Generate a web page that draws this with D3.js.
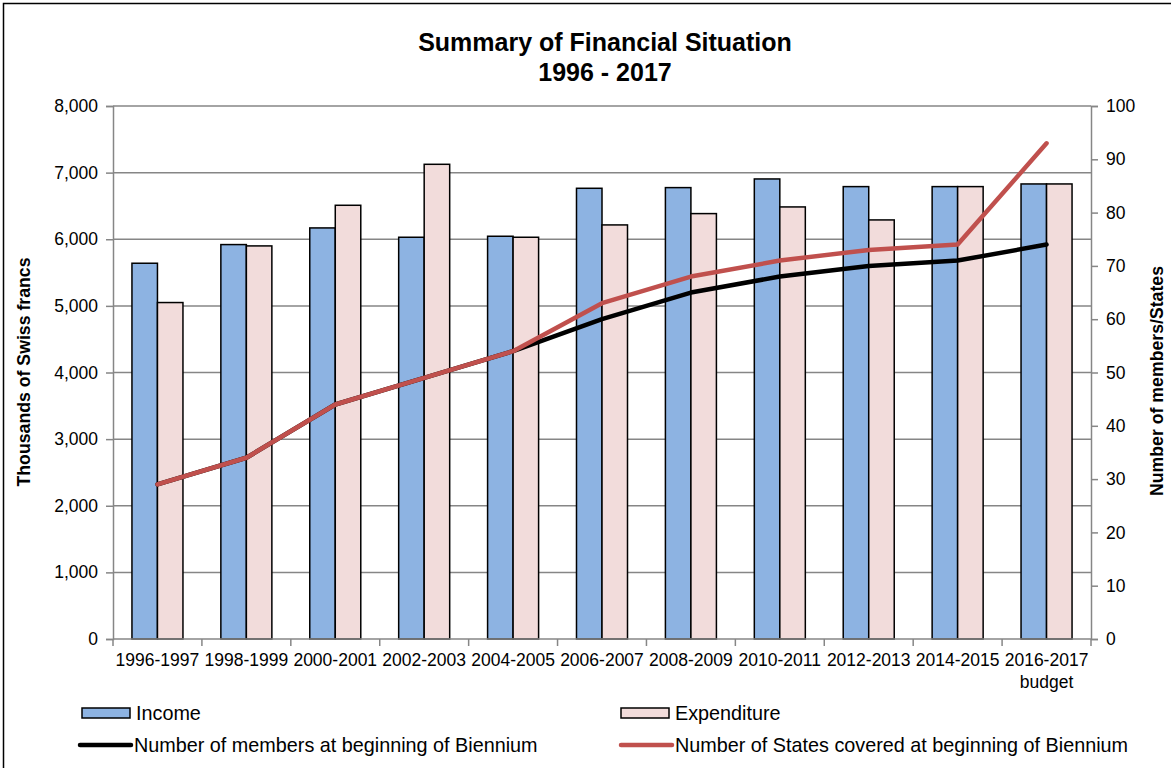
<!DOCTYPE html>
<html>
<head>
<meta charset="utf-8">
<script src="https://cdn.jsdelivr.net/npm/d3@7"></script>
<style>
  html, body { margin: 0; padding: 0; background: #fff; }
  svg { display: block; font-family: "Liberation Sans", Arial, sans-serif; }
</style>
</head>
<body>
<svg id="chart" width="1171" height="768"></svg>
<script>
const categories = ["1996-1997","1998-1999","2000-2001","2002-2003","2004-2005","2006-2007","2008-2009","2010-2011","2012-2013","2014-2015","2016-2017"];
const subLabels = ["","","","","","","","","","","budget"];
const income = [5640, 5920, 6170, 6030, 6045, 6765, 6775, 6905, 6790, 6790, 6830];
const expenditure = [5050, 5900, 6510, 7125, 6030, 6215, 6385, 6485, 6290, 6790, 6830];
const members = [29, 34, 44, 49, 54, 60, 65, 68, 70, 71, 74];
const states = [29, 34, 44, 49, 54, 63, 68, 71, 73, 74, 93];
const leftTicks = [0, 1000, 2000, 3000, 4000, 5000, 6000, 7000, 8000];
const rightTicks = [0, 10, 20, 30, 40, 50, 60, 70, 80, 90, 100];

const svg = d3.select("#chart");
const m = {left: 113, right: 1091, top: 106, bottom: 639};
const gridColor = "#868686";

// outer border
svg.append("path").attr("d", "M3.5,768 L3.5,3.5 L1171,3.5").attr("fill","none").attr("stroke","#000").attr("stroke-width",1.5);

const x = d3.scaleBand().domain(categories).range([m.left, m.right]).paddingInner(0).paddingOuter(0);
const xs = d3.scaleBand().domain(["income","expenditure"]).range([0, x.bandwidth()]).paddingInner(0).paddingOuter(0.743);
const yL = d3.scaleLinear().domain([0, 8000]).range([m.bottom, m.top]);
const yR = d3.scaleLinear().domain([0, 100]).range([m.bottom, m.top]);

// gridlines
svg.append("g").selectAll("line").data(leftTicks.filter(d => d > 0)).join("line")
  .attr("x1", m.left).attr("x2", m.right)
  .attr("y1", d => yL(d)).attr("y2", d => yL(d))
  .attr("stroke", gridColor).attr("stroke-width", 1.5);

// left axis
const gL = svg.append("g").attr("transform", `translate(${m.left},0)`)
  .call(d3.axisLeft(yL).tickValues(leftTicks).tickFormat(d3.format(",")).tickSize(7).tickPadding(8));
gL.select(".domain").attr("stroke", gridColor).attr("stroke-width", 1.5);
gL.selectAll(".tick line").attr("stroke", gridColor).attr("stroke-width", 1.5);
gL.selectAll("text").attr("font-size", 17.5).attr("fill", "#000").attr("font-family", "Liberation Sans, Arial, sans-serif");

// right axis
const gR = svg.append("g").attr("transform", `translate(${m.right},0)`)
  .call(d3.axisRight(yR).tickValues(rightTicks).tickSize(7).tickPadding(8));
gR.select(".domain").attr("stroke", gridColor).attr("stroke-width", 1.5);
gR.selectAll(".tick line").attr("stroke", gridColor).attr("stroke-width", 1.5);
gR.selectAll("text").attr("font-size", 17.5).attr("fill", "#000").attr("font-family", "Liberation Sans, Arial, sans-serif");

// bars
const groups = svg.append("g").selectAll("g").data(categories).join("g")
  .attr("transform", d => `translate(${x(d)},0)`);
groups.append("rect")
  .attr("x", xs("income")).attr("width", xs.bandwidth())
  .attr("y", (d,i) => yL(income[i])).attr("height", (d,i) => yL(0) - yL(income[i]))
  .attr("fill", "#8DB3E2").attr("stroke", "#000").attr("stroke-width", 1.5);
groups.append("rect")
  .attr("x", xs("expenditure")).attr("width", xs.bandwidth())
  .attr("y", (d,i) => yL(expenditure[i])).attr("height", (d,i) => yL(0) - yL(expenditure[i]))
  .attr("fill", "#F2DCDB").attr("stroke", "#000").attr("stroke-width", 1.5);

// bottom axis
const gB = svg.append("g").attr("transform", `translate(0,${m.bottom})`);
gB.append("line").attr("x1", m.left).attr("x2", m.right).attr("y1", 0).attr("y2", 0)
  .attr("stroke", gridColor).attr("stroke-width", 1.5);
const boundaries = categories.map(c => x(c)).concat([m.right]);
gB.selectAll("line.tk").data(boundaries).join("line").attr("class","tk")
  .attr("x1", d => d).attr("x2", d => d).attr("y1", 0).attr("y2", 7)
  .attr("stroke", gridColor).attr("stroke-width", 1.5);
gB.selectAll("text.cat").data(categories).join("text").attr("class","cat")
  .attr("x", d => x(d) + x.bandwidth()/2).attr("y", 27)
  .attr("text-anchor","middle").attr("font-size", 17.5).text(d => d);
gB.selectAll("text.sub").data(subLabels).join("text").attr("class","sub")
  .attr("x", (d,i) => x(categories[i]) + x.bandwidth()/2).attr("y", 49)
  .attr("text-anchor","middle").attr("font-size", 17.5).text(d => d);

// lines
const line = d3.line().x((d,i) => x(categories[i]) + x.bandwidth()/2).y(d => yR(d));
svg.append("path").datum(members).attr("d", line)
  .attr("fill","none").attr("stroke","#000").attr("stroke-width", 4.5).attr("stroke-linejoin","round").attr("stroke-linecap","round");
svg.append("path").datum(states).attr("d", line)
  .attr("fill","none").attr("stroke","#C0504D").attr("stroke-width", 4.5).attr("stroke-linejoin","round").attr("stroke-linecap","round");

// title
svg.append("text").attr("x", 605).attr("y", 51).attr("text-anchor","middle")
  .attr("font-size", 25).attr("font-weight","bold").text("Summary of Financial Situation");
svg.append("text").attr("x", 605).attr("y", 81).attr("text-anchor","middle")
  .attr("font-size", 25).attr("font-weight","bold").text("1996 - 2017");

// axis titles
svg.append("text").attr("transform", "translate(30,372) rotate(-90)").attr("text-anchor","middle")
  .attr("font-size", 17.7).attr("font-weight","bold").text("Thousands of Swiss francs");
svg.append("text").attr("transform", "translate(1163,381) rotate(-90)").attr("text-anchor","middle")
  .attr("font-size", 17.7).attr("font-weight","bold").text("Number of members/States");

// legend
const legend = svg.append("g");
const legItems = [
  {type:"rect", fill:"#8DB3E2", label:"Income", x:82, y:713},
  {type:"rect", fill:"#F2DCDB", label:"Expenditure", x:621, y:713},
  {type:"line", color:"#000", label:"Number of members at beginning of Biennium", x:80, y:745},
  {type:"line", color:"#C0504D", label:"Number of States covered at beginning of Biennium", x:621, y:745}
];
legItems.forEach(it => {
  if (it.type === "rect") {
    legend.append("rect").attr("x", it.x).attr("y", it.y - 5).attr("width", 48).attr("height", 10)
      .attr("fill", it.fill).attr("stroke","#000").attr("stroke-width",1.5);
  } else {
    legend.append("line").attr("x1", it.x).attr("x2", it.x + 51).attr("y1", it.y).attr("y2", it.y)
      .attr("stroke", it.color).attr("stroke-width", 4.5).attr("stroke-linecap","round");
  }
  legend.append("text").attr("x", it.x + 54).attr("y", it.y + 7).attr("font-size", 19.8).text(it.label);
});
</script>
</body>
</html>
